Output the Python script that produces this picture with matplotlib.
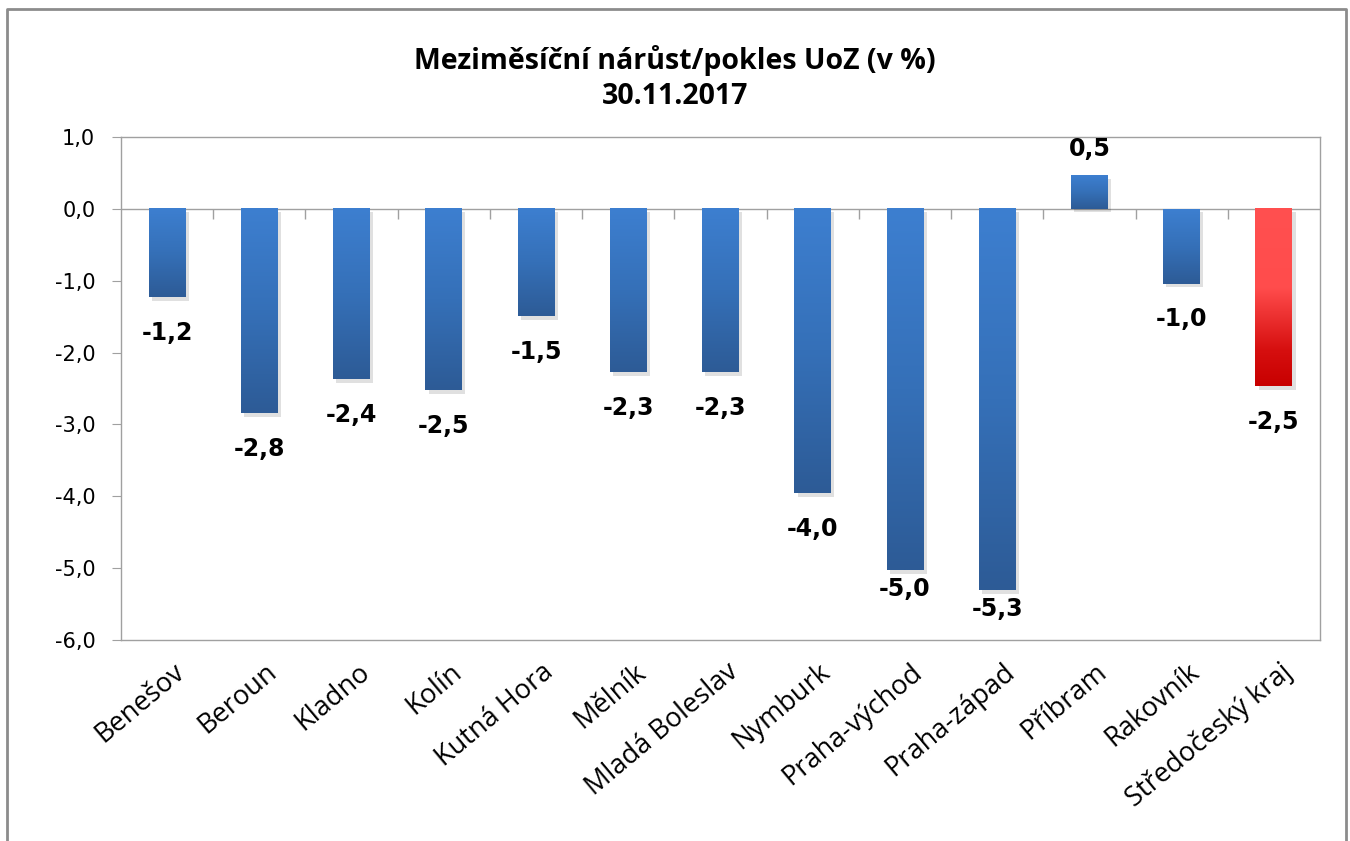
import numpy as np
import matplotlib
matplotlib.use('Agg')
import matplotlib.pyplot as plt
from matplotlib.colors import LinearSegmentedColormap
from matplotlib.patches import Rectangle
from matplotlib.lines import Line2D

plt.rcParams['font.family'] = ['DejaVu Sans']

# ---------------- data ----------------
okresy = ['Benešov', 'Beroun', 'Kladno', 'Kolín', 'Kutná Hora', 'Mělník',
          'Mladá Boleslav', 'Nymburk', 'Praha-východ', 'Praha-západ',
          'Příbram', 'Rakovník', 'Středočeský kraj']
zmena = [-1.23, -2.84, -2.37, -2.52, -1.49, -2.27, -2.27, -3.96, -5.03,
         -5.31, 0.47, -1.04, -2.47]
y_ticks = [1, 0, -1, -2, -3, -4, -5, -6]
y_min, y_max = -6, 1

# gradients (top -> bottom)
blue = LinearSegmentedColormap.from_list('b', ['#3d7fd0', '#3570b8', '#2d5b96'])
red = LinearSegmentedColormap.from_list('r', [(0, '#ff5050'), (0.45, '#ff4c4c'),
                                             (0.8, '#d60f0f'), (1, '#c80000')])

fig = plt.figure(figsize=(13.5, 8.41), dpi=100)
ax = fig.add_axes([121/1350, 1-640/841, 1199/1350, 503/841])

x = np.arange(len(okresy))
w = 0.4
grad = np.linspace(0, 1, 256).reshape(-1, 1)
for i, v in enumerate(zmena):
    cm = red if i == len(okresy) - 1 else blue
    top, bot = max(v, 0), min(v, 0)
    # soft shadow
    ax.add_patch(Rectangle((i - w/2 + 0.035, bot - 0.05), w, top - bot,
                           facecolor='#000000', alpha=0.12, edgecolor='none', zorder=2))
    ax.imshow(grad, cmap=cm, aspect='auto', origin='upper',
              extent=(i - w/2, i + w/2, bot, top), zorder=3)
    lab = f'{v:.1f}'.replace('.', ',')
    if v < 0:
        # labels near the bottom edge are squeezed in like Excel does
        off = -17 if v - y_min > 1.5 else -5
        ax.annotate(lab, (i, v), xytext=(0, off), textcoords='offset points',
                    ha='center', va='top', fontsize=17, fontweight='bold')
    else:
        ax.annotate(lab, (i, v), xytext=(0, 14), textcoords='offset points',
                    ha='center', va='baseline', fontsize=17, fontweight='bold')

ax.set_xlim(-0.5, len(okresy) - 0.5)
ax.set_ylim(y_min, y_max)
ax.axhline(0, color='#a0a0a0', lw=1, zorder=1)
ax.vlines(np.arange(len(okresy) - 1) + 0.5, -0.14, 0, color='#a0a0a0', lw=1)

for s in ax.spines.values():
    s.set_color('#a0a0a0')
    s.set_linewidth(1)

ax.set_yticks(y_ticks)
ax.set_yticklabels([f'{t:.1f}'.replace('.', ',') for t in y_ticks], fontsize=15)
ax.tick_params(axis='y', length=6.5, color='#a0a0a0', pad=12)
ax.set_xticks(x + 0.06)
ax.set_xticklabels(okresy, rotation=40, ha='right', rotation_mode='anchor',
                   fontsize=19.5, family='Open Sans')
ax.tick_params(axis='x', length=0, pad=13)

fig.text(0.5, 1 - 60/841, 'Meziměsíční nárůst/pokles UoZ (v %)',
         ha='center', va='center', fontsize=20.5, fontweight='bold', family='Open Sans')
fig.text(0.5, 1 - 97/841, '30.11.2017',
         ha='center', va='center', fontsize=20.5, fontweight='bold', family='Open Sans')

# chart border
fig.add_artist(Line2D([7/1350, 7/1350, 1346/1350, 1346/1350], [0, 1-9/841, 1-9/841, 0],
                      color='#8c8c8c', lw=2, transform=fig.transFigure))

fig.savefig('out.png', dpi=100)
